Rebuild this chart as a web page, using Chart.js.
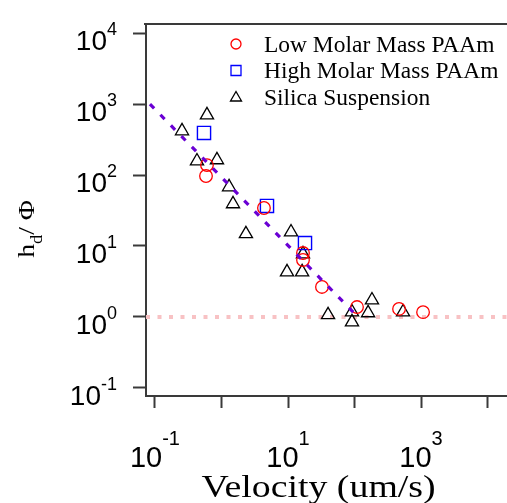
<!DOCTYPE html>
<html>
<head>
<meta charset="utf-8">
<script src="https://cdn.jsdelivr.net/npm/chart.js@4/dist/chart.umd.min.js"></script>
<style>
html,body{margin:0;padding:0;background:#ffffff;}
#wrap{width:507px;height:503px;position:relative;}
</style>
</head>
<body>
<div id="wrap"><canvas id="c" width="507" height="503"></canvas></div>
<script>
// ---- data ----
const seriesNames = ['Low Molar Mass PAAm', 'High Molar Mass PAAm', 'Silica Suspension'];

const lowMassVelocity  = [0.605, 0.585, 4.35, 16.8, 16.8, 32.4, 109, 467, 1072];
const lowMassHdPhi     = [138, 96.8, 34.3, 7.96, 6.35, 2.65, 1.38, 1.30, 1.17];

const highMassVelocity = [0.546, 4.83, 18.0];
const highMassHdPhi    = [391, 36.6, 11.0];

const silicaVelocity   = [0.255, 0.605, 0.428, 0.855, 1.30, 1.49, 2.33, 11.1, 9.66, 16.3, 16.8, 40.0, 91.6, 91.6, 160, 183, 536];
const silicaHdPhi      = [417, 700, 157, 163, 67.8, 39.1, 14.8, 15.7, 4.30, 4.30, 7.71, 1.07, 1.17, 0.85, 1.14, 1.73, 1.17];

const fitVelocity      = [0.084, 109];
const fitHdPhi         = [1000, 1.03];
const plateauHdPhi     = 1;

const xRange = [0.0733, 19600];
const yRange = [0.0771, 13400];
const xTickValues  = [0.1, 1, 10, 100, 1000, 10000];
const xLabelValues = [0.1, 10, 1000];
const yTickValues  = [0.1, 1, 10, 100, 1000, 10000];
const yLabelValues = [0.1, 1, 10, 100, 1000, 10000];
const xTitle = 'Velocity (um/s)';

// ---- helpers ----
const pts = (xs, ys) => xs.map((x, i) => ({x: x, y: ys[i]}));
const expOf = v => String(Math.round(Math.log10(v)));

const AXIS_COLOR = '#3a3a3a';

const decorPlugin = {
  id: 'decor',
  afterDraw(chart) {
    const ctx = chart.ctx;
    const xs = chart.scales.x, ys = chart.scales.y;
    const ca = chart.chartArea;
    ctx.save();
    // top frame line
    ctx.strokeStyle = AXIS_COLOR;
    ctx.lineWidth = 2;
    ctx.beginPath();
    ctx.moveTo(ca.left - 2, ca.top);
    ctx.lineTo(ca.right, ca.top);
    ctx.stroke();

    ctx.fillStyle = '#000';
    // y tick labels: 10^n
    yLabelValues.forEach(v => {
      const py = ys.getPixelForValue(v);
      const right = 117;
      ctx.font = '18px "Liberation Sans", Arial, sans-serif';
      ctx.textAlign = 'right';
      ctx.textBaseline = 'alphabetic';
      const e = expOf(v);
      const ew = ctx.measureText(e).width;
      ctx.fillText(e, right, py + 2);
      ctx.font = '28px "Liberation Sans", Arial, sans-serif';
      ctx.fillText('10', right - ew, py + 17);
    });
    // x tick labels
    xLabelValues.forEach(v => {
      const px = xs.getPixelForValue(v);
      const e = expOf(v);
      ctx.textAlign = 'left';
      ctx.textBaseline = 'alphabetic';
      ctx.font = '29px "Liberation Sans", Arial, sans-serif';
      const bw = ctx.measureText('10').width;
      ctx.font = '20px "Liberation Sans", Arial, sans-serif';
      const ew = ctx.measureText(e).width;
      const start = px - (bw + ew) / 2;
      ctx.font = '29px "Liberation Sans", Arial, sans-serif';
      ctx.fillText('10', start, 467);
      ctx.font = '20px "Liberation Sans", Arial, sans-serif';
      ctx.fillText(e, start + bw, 445);
    });

    // x title
    ctx.save();
    ctx.translate(318.5, 497);
    ctx.scale(1.22, 1);
    ctx.font = '31px "Liberation Serif", "Times New Roman", serif';
    ctx.textAlign = 'center';
    ctx.fillText(xTitle, 0, 0);
    ctx.restore();

    // y title h_d / Φ
    ctx.save();
    ctx.translate(34, 229);
    ctx.rotate(-Math.PI / 2);
    ctx.scale(1.15, 1);
    ctx.textAlign = 'left';
    const big = '24px "Liberation Serif", "Times New Roman", serif';
    const small = '16px "Liberation Serif", "Times New Roman", serif';
    ctx.font = big; const wh = ctx.measureText('h').width;
    ctx.font = small; const wd = ctx.measureText('d').width;
    ctx.font = big; const wr = ctx.measureText('/ Φ').width;
    let x0 = -(wh + wd + wr) / 2;
    ctx.font = big; ctx.fillText('h', x0, 0); x0 += wh;
    ctx.font = small; ctx.fillText('d', x0, 8); x0 += wd;
    ctx.font = big; ctx.fillText('/ Φ', x0, 0);
    ctx.restore();

    // legend
    const ds = chart.data.datasets;
    const legendItems = [1, 2, 3];
    const rowsY = [44, 70.5, 97];
    ctx.font = '23px "Liberation Serif", "Times New Roman", serif';
    ctx.textAlign = 'left';
    legendItems.forEach((di, k) => {
      const d = ds[di];
      const cx = 236, cy = rowsY[k];
      ctx.strokeStyle = d.borderColor;
      ctx.lineWidth = 1.3;
      ctx.beginPath();
      if (d.pointStyle === 'circle') {
        ctx.arc(cx, cy, 5, 0, Math.PI * 2);
      } else if (d.pointStyle === 'rect') {
        ctx.rect(cx - 5, cy - 5, 10, 10);
      } else {
        ctx.moveTo(cx, cy - 5.5);
        ctx.lineTo(cx + 5.5, cy + 4);
        ctx.lineTo(cx - 5.5, cy + 4);
        ctx.closePath();
      }
      ctx.stroke();
      ctx.save();
      ctx.translate(264, cy + 7.5);
      ctx.scale(1.02, 1);
      ctx.fillStyle = '#000';
      ctx.fillText(d.label, 0, 0);
      ctx.restore();
    });
    ctx.restore();
  }
};

new Chart(document.getElementById('c'), {
  type: 'scatter',
  data: {
    datasets: [
      {
        label: 'fit',
        data: pts(fitVelocity, fitHdPhi),
        showLine: true,
        pointRadius: 0,
        borderColor: '#6a00d4',
        borderWidth: 3.2,
        borderDash: [6, 9],
        fill: false
      },
      {
        label: seriesNames[0],
        data: pts(lowMassVelocity, lowMassHdPhi),
        pointStyle: 'circle',
        pointRadius: 6.3,
        borderColor: '#ff0000',
        backgroundColor: 'rgba(0,0,0,0)',
        pointBorderWidth: 1.3
      },
      {
        label: seriesNames[1],
        data: pts(highMassVelocity, highMassHdPhi),
        pointStyle: 'rect',
        pointRadius: 9.3,
        borderColor: '#0000ff',
        backgroundColor: 'rgba(0,0,0,0)',
        pointBorderWidth: 1.4
      },
      {
        label: seriesNames[2],
        data: pts(silicaVelocity, silicaHdPhi),
        pointStyle: 'triangle',
        pointRadius: 7.6,
        borderColor: '#000000',
        backgroundColor: 'rgba(0,0,0,0)',
        pointBorderWidth: 1.3
      },
      {
        label: 'plateau',
        data: pts(xRange, [plateauHdPhi, plateauHdPhi]),
        showLine: true,
        pointRadius: 0,
        borderColor: '#f8c2c4',
        borderWidth: 4,
        borderDash: [4, 7.5],
        fill: false
      }
    ]
  },
  options: {
    responsive: false,
    animation: false,
    devicePixelRatio: 1,
    layout: { padding: { top: 24, left: 0, right: 0, bottom: 0 }, autoPadding: false },
    plugins: { legend: { display: false }, tooltip: { enabled: false } },
    scales: {
      x: {
        type: 'logarithmic',
        min: xRange[0],
        max: xRange[1],
        afterBuildTicks: s => { s.ticks = xTickValues.map(v => ({value: v})); },
        afterFit: s => { s.height = 107; },
        ticks: { display: false },
        grid: { drawOnChartArea: false, drawTicks: true, tickLength: 12, tickColor: AXIS_COLOR, tickWidth: 2 },
        border: { display: true, color: AXIS_COLOR, width: 2 }
      },
      y: {
        type: 'logarithmic',
        min: yRange[0],
        max: yRange[1],
        afterBuildTicks: s => { s.ticks = yTickValues.map(v => ({value: v})); },
        afterFit: s => { s.width = 146; },
        ticks: { display: false },
        grid: { drawOnChartArea: false, drawTicks: true, tickLength: 13, tickColor: AXIS_COLOR, tickWidth: 2 },
        border: { display: true, color: AXIS_COLOR, width: 2 }
      }
    }
  },
  plugins: [decorPlugin]
});
</script>
</body>
</html>
